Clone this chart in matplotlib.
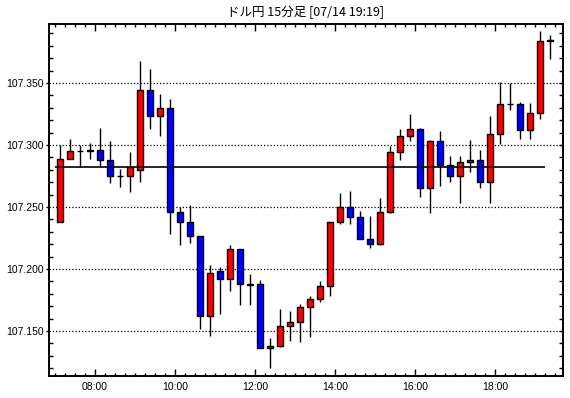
import numpy as np
import pandas as pd
import matplotlib
matplotlib.use("Agg")
import matplotlib.pyplot as plt
from matplotlib.ticker import MultipleLocator, FixedLocator, NullFormatter

title = "ドル円 15分足 [07/14 19:19]"
start_time = "2020-07-14 07:00"

opens = [107.238, 107.289, 107.295, 107.295, 107.296, 107.288, 107.275, 107.275, 107.280, 107.344,
         107.323, 107.330, 107.246, 107.238, 107.227, 107.162, 107.198, 107.192, 107.216, 107.188,
         107.188, 107.136, 107.138, 107.154, 107.157, 107.169, 107.176, 107.186, 107.238, 107.250,
         107.242, 107.224, 107.220, 107.246, 107.294, 107.307, 107.313, 107.265, 107.303, 107.284,
         107.275, 107.286, 107.288, 107.270, 107.309, 107.333, 107.333, 107.312, 107.326, 107.385]
highs = [107.300, 107.305, 107.300, 107.302, 107.314, 107.303, 107.281, 107.294, 107.368, 107.361,
         107.341, 107.337, 107.250, 107.252, 107.227, 107.203, 107.202, 107.219, 107.216, 107.196,
         107.191, 107.144, 107.168, 107.166, 107.172, 107.178, 107.190, 107.238, 107.261, 107.263,
         107.247, 107.243, 107.257, 107.299, 107.313, 107.325, 107.314, 107.304, 107.311, 107.291,
         107.291, 107.304, 107.296, 107.323, 107.351, 107.350, 107.335, 107.334, 107.392, 107.389]
lows = [107.238, 107.289, 107.282, 107.289, 107.282, 107.269, 107.266, 107.262, 107.270, 107.313,
        107.307, 107.228, 107.219, 107.221, 107.152, 107.146, 107.164, 107.182, 107.171, 107.171,
        107.136, 107.120, 107.137, 107.142, 107.141, 107.145, 107.173, 107.178, 107.236, 107.236,
        107.224, 107.217, 107.219, 107.245, 107.288, 107.303, 107.258, 107.245, 107.267, 107.270,
        107.253, 107.278, 107.265, 107.253, 107.301, 107.328, 107.305, 107.305, 107.321, 107.369]
closes = [107.289, 107.295, 107.295, 107.296, 107.288, 107.275, 107.275, 107.282, 107.344, 107.323,
          107.330, 107.246, 107.238, 107.227, 107.162, 107.197, 107.192, 107.216, 107.188, 107.187,
          107.136, 107.138, 107.154, 107.157, 107.169, 107.176, 107.186, 107.238, 107.250, 107.242,
          107.224, 107.220, 107.246, 107.294, 107.307, 107.313, 107.265, 107.303, 107.284, 107.275,
          107.286, 107.288, 107.270, 107.309, 107.333, 107.333, 107.312, 107.326, 107.384, 107.384]
ref_level = 107.2823

y_ticks = [107.150, 107.200, 107.250, 107.300, 107.350]
y_labels = ["107.150", "107.200", "107.250", "107.300", "107.350"]
x_tick_labels = ["08:00", "10:00", "12:00", "14:00", "16:00", "18:00"]

times = pd.date_range(start_time, periods=len(opens), freq="15min")
x = np.arange(len(opens))

fig = plt.figure(figsize=(5.70, 3.98), dpi=100)
L, R, T, B = 49, 563, 24, 376
ax = fig.add_axes([L / 570, 1 - B / 398, (R - L) / 570, (B - T) / 398])

o = np.array(opens); h = np.array(highs); l = np.array(lows); c = np.array(closes)
up = c >= o
colors = np.where(up, "#ff0000", "#0000ff")
ax.vlines(x, l, h, color="black", lw=1.0, zorder=2)
ax.bar(x, np.abs(c - o), bottom=np.minimum(o, c), width=0.62, color=colors,
       edgecolor="black", linewidth=1.0, zorder=3)

ax.hlines(ref_level, -0.5, len(opens) - 1.5, color="black", lw=1.2, zorder=4)

for yt in y_ticks:
    ax.axhline(yt, color="black", lw=0.9, linestyle=(0, (1, 1.6)), zorder=1)

ax.set_xlim(-1.1, len(opens) + 0.3)
ax.set_ylim(107.1137, 107.3976)

# x ticks
labels_pos = []
for lab in x_tick_labels:
    idx = [i for i, t in enumerate(times) if t.strftime("%H:%M") == lab][0]
    labels_pos.append(idx - 0.5)
ax.set_xticks(labels_pos)
ax.set_xticklabels(x_tick_labels)
ax.xaxis.set_minor_locator(FixedLocator(np.arange(len(opens) + 1) - 0.5))
ax.tick_params(axis="x", which="major", direction="in", length=5, width=1.0,
               top=True, bottom=True, pad=4, labelsize=7.5)
ax.tick_params(axis="x", which="minor", direction="in", length=2.5, width=1.0,
               top=True, bottom=True)

# y ticks (left)
ax.set_yticks(y_ticks)
ax.set_yticklabels(y_labels)
ax.yaxis.set_minor_locator(MultipleLocator(0.01))
ax.tick_params(axis="y", which="major", direction="out", length=2.5, width=1.0, pad=1,
               labelsize=7.5)
ax.tick_params(axis="y", which="minor", direction="in", length=3, width=1.0)

for lab in ax.get_xticklabels() + ax.get_yticklabels():
    lab.set_family("Liberation Sans")

# right axis ticks
ax2 = ax.twinx()
ax2.set_ylim(ax.get_ylim())
ax2.yaxis.set_major_locator(MultipleLocator(0.01))
ax2.yaxis.set_major_formatter(NullFormatter())
ax2.tick_params(axis="y", which="major", direction="in", length=3, width=1.0)

for a in (ax, ax2):
    for s in a.spines.values():
        s.set_linewidth(1.2)

fig.text(306 / 570, 1 - 12 / 398, title, ha="center", va="center", fontsize=9,
         family=["Noto Sans CJK JP", "DejaVu Sans"])

fig.savefig("out.png", dpi=100)
